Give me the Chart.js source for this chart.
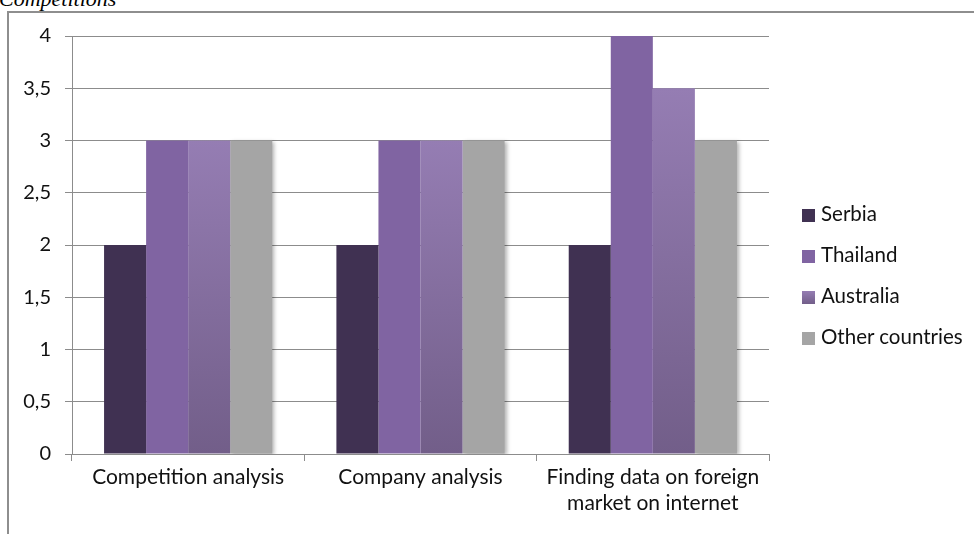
<!DOCTYPE html>
<html>
<head>
<meta charset="utf-8">
<script src="https://cdn.jsdelivr.net/npm/chart.js@4.4.1/dist/chart.umd.min.js"></script>
<style>
  html, body { margin: 0; padding: 0; background: #fff; }
  body { width: 974px; height: 534px; overflow: hidden; position: relative; font-family: Lato, "Open Sans", sans-serif; }
  #title { position: absolute; left: -1px; top: -12px; font: italic 22px "Liberation Serif", "DejaVu Serif", serif; color: #000; line-height: 22px; }
  #frame { position: absolute; left: 7px; top: 11px; width: 1100px; height: 700px; border: 2px solid #8e8e8e; box-sizing: border-box; }
  #chartBox { position: absolute; left: 0; top: 0; width: 974px; height: 534px; }
  #legend { position: absolute; left: 802px; top: 0; margin: 0; padding: 0; list-style: none; }
  #legend li { position: absolute; left: 0; white-space: nowrap; font-size: 20.5px; color: #111; line-height: 20px; }
  #legend span { display: inline-block; width: 13px; height: 13px; margin-right: 6px; vertical-align: -1px; }
</style>
</head>
<body>
<div id="title">Competitions</div>
<div id="frame"></div>
<div id="chartBox"><canvas id="barChart" width="974" height="534"></canvas></div>
<ul id="legend"></ul>
<script>
// survey results per activity
const categories = [
  ["Competition analysis"],
  ["Company analysis"],
  ["Finding data on foreign", "market on internet"],
];
const seriesNames = ["Serbia", "Thailand", "Australia", "Other countries"];
const serbia = [2, 2, 2];
const thailand = [3, 3, 4];
const australia = [3, 3, 3.5];
const otherCountries = [3, 3, 3];
const yMin = 0;
const yMax = 4;
const yStep = 0.5;

const seriesValues = [serbia, thailand, australia, otherCountries];
const seriesColors = ["#403152", "#8064a2", "#8a72a6", "#a5a5a5"];
const gridColor = "#8c8c8c";
const font = { family: "Lato, 'Open Sans', sans-serif", size: 20 };

// Australia bars fade from light lilac at the top to a darker shade at the base
const australiaFill = (ctx) => {
  const chart = ctx.chart;
  const y = chart.scales && chart.scales.y;
  if (!chart.chartArea || !y || ctx.type !== "data") return seriesColors[2];
  const top = y.getPixelForValue(ctx.raw);
  const bottom = y.getPixelForValue(0);
  const g = chart.ctx.createLinearGradient(0, top, 0, bottom);
  g.addColorStop(0, "#957db3");
  g.addColorStop(1, "#725e89");
  return g;
};

// soft drop shadow on the right-most bar of each group
const barShadow = {
  id: "barShadow",
  beforeDatasetDraw(chart, args) {
    if (args.index !== seriesNames.length - 1) return;
    const c = chart.ctx;
    c.save();
    c.shadowColor = "rgba(0,0,0,0.3)";
    c.shadowBlur = 4;
    c.shadowOffsetX = 2;
    c.shadowOffsetY = 1;
  },
  afterDatasetDraw(chart, args) {
    if (args.index !== seriesNames.length - 1) return;
    chart.ctx.restore();
  },
};

const datasets = seriesNames.map((name, i) => ({
  label: name,
  data: seriesValues[i],
  backgroundColor: i === 2 ? australiaFill : seriesColors[i],
  borderWidth: 0,
  barPercentage: 1,
  categoryPercentage: 0.724,
}));

new Chart(document.getElementById("barChart"), {
  type: "bar",
  data: { labels: categories, datasets },
  plugins: [barShadow],
  options: {
    responsive: false,
    animation: false,
    events: [],
    layout: { padding: { top: 36, right: 205, left: 0, bottom: 0 } },
    plugins: {
      legend: { display: false },
      tooltip: { enabled: false },
      title: { display: false },
    },
    scales: {
      x: {
        grid: { display: true, drawOnChartArea: false, offset: true, color: gridColor, tickLength: 7 },
        border: { color: gridColor },
        ticks: { color: "#111", font: { ...font, size: 21, lineHeight: 1.2 }, padding: 4, maxRotation: 0, autoSkip: false },
        afterFit: (scale) => { scale.height = 80; },
      },
      y: {
        min: yMin,
        max: yMax,
        grid: { color: gridColor, tickLength: 7 },
        border: { color: gridColor },
        ticks: {
          stepSize: yStep,
          color: "#111",
          font,
          padding: 14,
          callback: (v) => String(v).replace(".", ","),
        },
        afterFit: (scale) => { scale.width = 72; },
      },
    },
  },
});

// legend list on the right
const legend = document.getElementById("legend");
seriesNames.forEach((name, i) => {
  const li = document.createElement("li");
  li.style.top = (203 + i * 41) + "px";
  const sw = document.createElement("span");
  sw.style.background = i === 2 ? "linear-gradient(#957db3, #725e89)" : seriesColors[i];
  li.appendChild(sw);
  li.appendChild(document.createTextNode(name));
  legend.appendChild(li);
});
</script>
</body>
</html>
